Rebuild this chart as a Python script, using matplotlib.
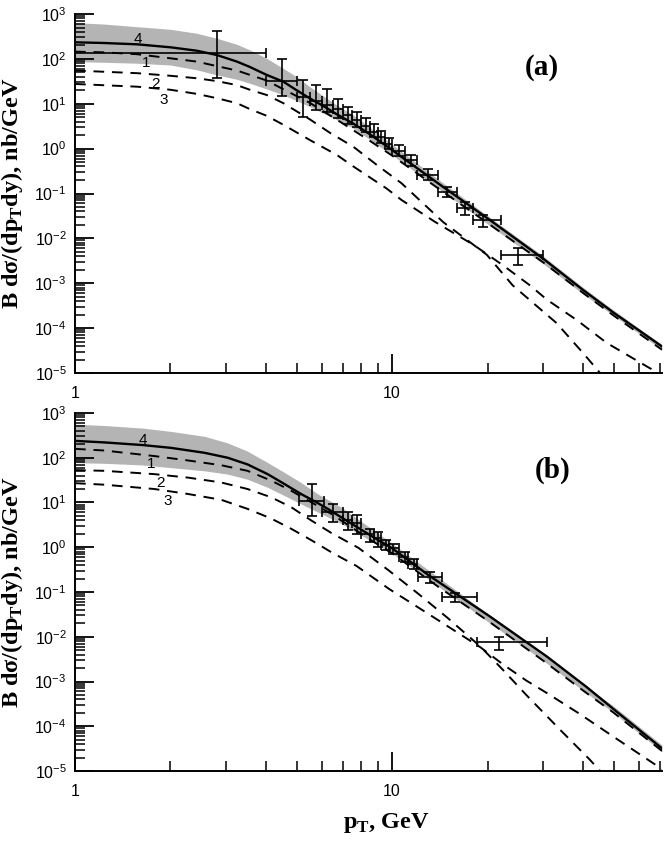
import numpy as np
import matplotlib
matplotlib.use("Agg")
import matplotlib.pyplot as plt
from matplotlib.ticker import FixedLocator, FuncFormatter, LogLocator, NullFormatter

plt.rcParams["font.family"] = ["Liberation Sans", "DejaVu Sans"]

# ---------------- panel (a) ----------------
a_x4 = [1, 1.228, 1.57, 2.0, 2.42, 2.8, 3.24, 3.56, 4.02, 4.54, 5.0, 5.5, 6.07, 6.7, 7.55, 8.5, 10, 14.2, 20, 30, 40, 50, 71]
a_y4 = [234, 226, 211, 181, 152, 122, 87, 66, 44, 31, 20, 13.2, 8.9, 5.8, 3.6, 2.1, 0.93, 0.155, 0.028, 0.0035, 7.1e-4, 2.2e-4, 3.9e-5]
a_x1 = [1, 1.228, 1.57, 2.0, 2.42, 2.8, 3.24, 3.56, 4.02, 4.54, 5.5, 6.7, 8.5, 10, 14.2, 20, 30, 40, 50, 71]
a_y1 = [145, 140, 127, 103, 87, 69, 55, 44, 33, 21, 10.5, 4.4, 1.5, 0.70, 0.12, 0.022, 0.0029, 6.1e-4, 1.9e-4, 3.3e-5]
a_x2 = [1, 1.57, 2.0, 2.42, 2.8, 3.24, 3.56, 4.02, 4.54, 5.5, 6.4, 7.55, 9.0, 10.7, 14.5, 19.9, 24, 33, 40, 45.3]
a_y2 = [55, 48, 42, 37, 32, 26, 20.5, 15.7, 10.3, 4.5, 2.2, 1.1, 0.42, 0.17, 0.023, 0.0043, 9e-4, 1.3e-4, 2.8e-5, 1e-5]
a_x3 = [1, 1.57, 2.0, 2.42, 2.8, 3.24, 3.56, 4.02, 4.54, 5.5, 6.7, 7.55, 9.6, 10.7, 13.7, 18.1, 22.4, 27.2, 30.8, 38.3, 47.5, 63.6, 71]
a_y3 = [27.6, 24, 20.5, 16.6, 13.3, 10.3, 7.6, 5.4, 3.4, 1.56, 0.72, 0.40, 0.13, 0.072, 0.023, 0.0071, 0.0025, 9e-4, 4.3e-4, 1.5e-4, 4.7e-5, 1.4e-5, 9e-6]
a_band_x = [1, 1.228, 1.57, 2.0, 2.42, 2.8, 3.24, 3.56, 4.02, 4.54, 5.0, 5.5, 6.07, 6.7, 7.55, 8.5, 10, 14.2, 20, 30, 40, 50, 71]
a_band_hi = [640, 598, 521, 456, 372, 288, 211, 158, 103, 61, 40, 24, 14.9, 9.3, 5.6, 3.0, 1.25, 0.19, 0.032, 0.0040, 8.1e-4, 2.5e-4, 4.3e-5]
a_band_lo = [87, 84, 80, 73, 57, 44, 35, 28.6, 21.4, 15.7, 11.7, 8.6, 6.1, 4.4, 2.84, 1.6, 0.72, 0.12, 0.021, 0.0027, 5.8e-4, 1.9e-4, 3.3e-5]

a_pt = [2.8, 4.49, 5.25, 5.75, 6.25, 6.75, 7.25, 7.75, 8.25, 8.75, 9.25, 9.75, 10.5, 11.5, 13.0, 14.9, 17.0, 19.4, 25.0]
a_pt_lo = [1.0, 4.0, 5.0, 5.5, 6.0, 6.5, 7.0, 7.5, 8.0, 8.5, 9.0, 9.5, 10.0, 11.0, 12.0, 14.0, 16.0, 18.0, 22.0]
a_pt_hi = [4.0, 5.0, 5.5, 6.0, 6.5, 7.0, 7.5, 8.0, 8.5, 9.0, 9.5, 10.0, 11.0, 12.0, 14.0, 16.0, 18.0, 22.0, 30.0]
a_val = [133, 32, 14.4, 11.3, 9.3, 7.5, 5.5, 4.3, 3.2, 2.4, 1.8, 1.3, 0.9, 0.55, 0.26, 0.11, 0.047, 0.026, 0.0043]
a_val_lo = [38, 14.9, 5.0, 7.2, 6.6, 4.7, 3.6, 3.0, 2.3, 1.8, 1.35, 1.0, 0.68, 0.42, 0.20, 0.085, 0.033, 0.018, 0.0026]
a_val_hi = [425, 98, 34, 26, 21, 12.8, 8.6, 6.6, 4.8, 3.5, 2.5, 1.76, 1.2, 0.72, 0.36, 0.14, 0.066, 0.033, 0.006]

# ---------------- panel (b) ----------------
b_x4 = [1, 1.237, 1.635, 2.01, 2.56, 3.03, 3.50, 4.05, 4.57, 5.16, 5.69, 6.27, 6.9, 8.85, 10, 13, 20.4, 30.8, 41, 50, 71]
b_y4 = [238, 220, 192, 166, 129, 100, 71, 43, 26, 15.5, 10.7, 7.2, 4.7, 1.58, 0.95, 0.24, 0.028, 0.0036, 7.6e-4, 2.4e-4, 3.2e-5]
b_x1 = [1, 1.237, 1.78, 2.27, 2.89, 3.50, 4.15, 4.80, 5.55, 6.42, 6.9, 8.5, 10, 14, 20, 30, 40, 50, 71]
b_y1 = [158, 145, 109, 87, 68, 51, 31, 18.4, 10.2, 5.6, 4.0, 1.5, 0.73, 0.13, 0.023, 0.0029, 6.3e-4, 2.0e-4, 2.8e-5]
b_x2 = [1, 1.237, 1.78, 2.27, 2.89, 3.50, 4.15, 4.80, 5.55, 6.42, 7.83, 9.72, 12.1, 15, 19, 22.4, 26.5, 33.9, 42, 45.3]
b_y2 = [53, 51, 43, 36, 28, 20, 13.1, 7.9, 4.0, 2.1, 0.97, 0.31, 0.091, 0.026, 0.006, 0.0018, 5.0e-4, 8.3e-5, 1.8e-5, 1e-5]
b_x3 = [1, 1.237, 1.78, 2.27, 2.89, 3.50, 4.15, 4.80, 5.55, 6.42, 7.73, 9.8, 12.1, 15, 19, 22.4, 26.5, 30.8, 39, 49.8, 64, 71]
b_y3 = [27, 25, 20, 15.5, 11.5, 7.2, 4.4, 2.6, 1.45, 0.78, 0.38, 0.116, 0.045, 0.017, 0.0058, 0.0024, 1.05e-3, 5.5e-4, 1.9e-4, 5.9e-5, 1.8e-5, 1.1e-5]
b_band_x = [1, 1.237, 1.635, 2.01, 2.56, 3.03, 3.50, 4.05, 4.57, 5.16, 5.83, 6.9, 10, 20, 30, 40, 50, 71]
b_band_hi = [562, 525, 459, 387, 301, 214, 140, 78, 47, 28, 15.5, 7.9, 1.22, 0.033, 0.0042, 8.8e-4, 2.8e-4, 3.8e-5]
b_band_lo = [78, 75, 69, 60, 51, 43, 33, 21.8, 14.3, 9.3, 6.1, 3.4, 0.73, 0.022, 0.0029, 6.3e-4, 2.0e-4, 2.7e-5]

b_pt = [5.6, 6.5, 7.25, 7.75, 8.5, 9.0, 9.6, 10.1, 11.0, 11.7, 13.2, 15.8, 21.7]
b_pt_lo = [5.1, 6.0, 7.0, 7.5, 8.0, 8.75, 9.25, 9.75, 10.5, 11.25, 12.1, 14.4, 18.5]
b_pt_hi = [6.1, 7.0, 7.5, 8.0, 8.75, 9.25, 9.75, 10.5, 11.25, 12.0, 14.4, 18.5, 30.8]
b_val = [11.0, 6.2, 4.0, 3.4, 2.0, 1.6, 1.12, 0.95, 0.62, 0.43, 0.22, 0.079, 0.0078]
b_val_lo = [5.0, 3.7, 2.4, 2.0, 1.3, 1.0, 0.85, 0.7, 0.48, 0.33, 0.155, 0.060, 0.005]
b_val_hi = [26, 9.3, 6.0, 5.2, 2.6, 2.2, 1.45, 1.2, 0.8, 0.56, 0.28, 0.094, 0.01]

SERIF = dict(family="Liberation Serif", weight="bold")
DASH = (0, (5.5, 4))


def panel(ax, c4, c1, c2, c3, band, pts, tag, tag_pos, lab_pos):
    ax.fill_between(band[0], band[1], band[2], color="#b4b4b4", lw=0, zorder=1)
    for xs, ys in (c1, c2, c3):
        ax.plot(xs, ys, color="k", lw=1.4, ls=DASH, zorder=2)
    ax.plot(c4[0], c4[1], color="k", lw=1.7, zorder=3)
    x, xl, xh, y, yl, yh = (np.array(v) for v in pts)
    ax.errorbar(x, y, xerr=[x - xl, xh - x], yerr=[y - yl, yh - y], fmt="none",
                ecolor="k", elinewidth=1.2, capsize=3.5, capthick=1.2, zorder=4)
    for s, (tx, ty) in zip("4123", lab_pos):
        ax.text(tx, ty, s, fontsize=11, ha="center", va="center", zorder=5)
    ax.text(tag_pos[0], tag_pos[1], tag, transform=ax.transAxes, fontsize=21,
            ha="center", va="center", **SERIF)

    ax.set_xscale("log"); ax.set_yscale("log")
    ax.set_xlim(1, 71); ax.set_ylim(1e-5, 1e3)
    for s in ("top", "right"):
        ax.spines[s].set_visible(False)
    for s in ("left", "bottom"):
        ax.spines[s].set_linewidth(1.4)
    ax.xaxis.set_major_locator(FixedLocator([1, 10]))
    ax.xaxis.set_major_formatter(FuncFormatter(lambda v, p: f"{v:g}"))
    ax.xaxis.set_minor_locator(FixedLocator([2, 3, 4, 5, 6, 7, 8, 9, 20, 30, 40, 50, 60, 70]))
    ax.xaxis.set_minor_formatter(NullFormatter())
    ax.yaxis.set_major_locator(LogLocator(base=10, numticks=20))
    ax.yaxis.set_major_formatter(FuncFormatter(lambda v, p: r"$\mathregular{10^{%d}}$" % round(np.log10(v))))
    ax.yaxis.set_minor_locator(LogLocator(base=10, subs=np.arange(2, 10), numticks=20))
    ax.yaxis.set_minor_formatter(NullFormatter())
    ax.tick_params(which="major", direction="in", length=14, width=1.3, labelsize=11.5)
    ax.tick_params(which="minor", direction="in", length=7, width=1.1)
    ax.tick_params(axis="x", which="major", pad=9)
    ax.tick_params(axis="y", which="major", pad=6)
    ax.set_ylabel("B dσ/(dp$_\\mathregular{T}$dy), nb/GeV", fontsize=17.5, **SERIF)
    ax.yaxis.set_label_coords(-0.085, 0.5)


fig = plt.figure(figsize=(6.64, 8.43), dpi=100)
ax_a = fig.add_axes([0.113, 0.5575, 0.884, 0.4259])
ax_b = fig.add_axes([0.113, 0.0854, 0.884, 0.4247])

panel(ax_a, (a_x4, a_y4), (a_x1, a_y1), (a_x2, a_y2), (a_x3, a_y3),
      (a_band_x, a_band_hi, a_band_lo),
      (a_pt, a_pt_lo, a_pt_hi, a_val, a_val_lo, a_val_hi),
      "(a)", (0.796, 0.85),
      [(1.58, 274), (1.68, 79), (1.80, 27.6), (1.90, 12.2)])
panel(ax_b, (b_x4, b_y4), (b_x1, b_y1), (b_x2, b_y2), (b_x3, b_y3),
      (b_band_x, b_band_hi, b_band_lo),
      (b_pt, b_pt_lo, b_pt_hi, b_val, b_val_lo, b_val_hi),
      "(b)", (0.813, 0.841),
      [(1.635, 253), (1.74, 74), (1.86, 27), (1.96, 11)])

ax_b.set_xlabel("p$_\\mathregular{T}$, GeV", fontsize=17.5, **SERIF)
ax_b.xaxis.set_label_coords(0.53, -0.112)

fig.savefig("out.png", dpi=100)
